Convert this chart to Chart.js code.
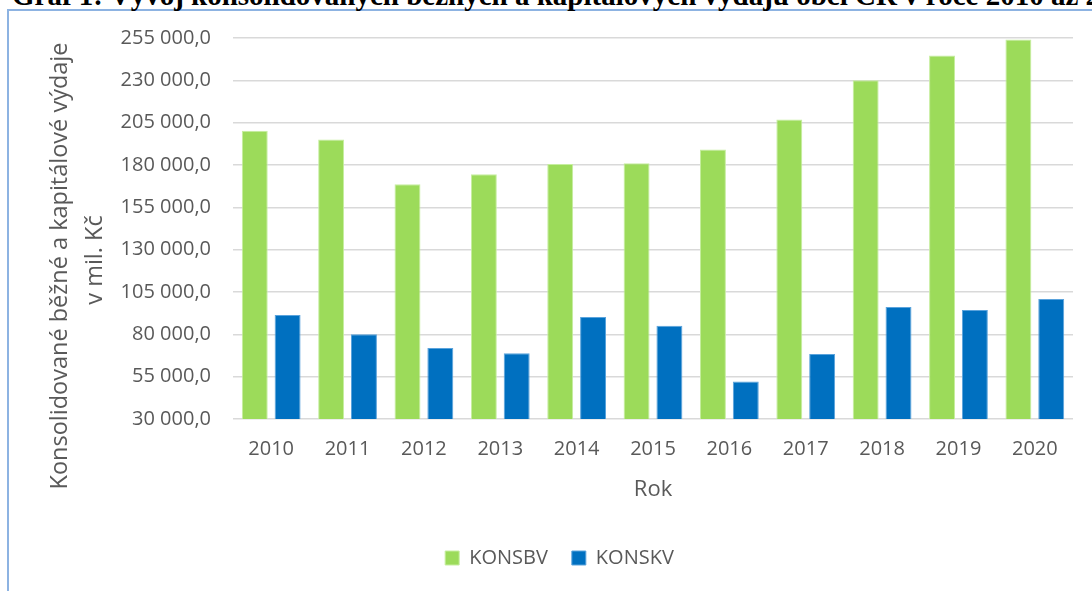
<!DOCTYPE html>
<html>
<head>
<meta charset="utf-8">
<script src="https://cdn.jsdelivr.net/npm/chart.js@4"></script>
<style>
  html, body { margin: 0; padding: 0; background: #fff; overflow: hidden; }
  body { width: 1092px; height: 591px; position: relative; }
  #frame { position: absolute; left: 7px; top: 9px; width: 1090px; height: 590px;
           border-top: 2px solid #8db3e2; border-left: 2px solid #8db3e2; }
  #nadpis { position: absolute; left: 12px; top: -19px; white-space: nowrap;
            font: bold 29px "Liberation Serif", "Times New Roman", serif; line-height: 1; color: #000; }
  #wrap { position: absolute; left: 0; top: 0; width: 1092px; height: 591px; }
</style>
</head>
<body>
<div id="frame"></div>
<div id="nadpis">Graf 1: Vývoj konsolidovaných běžných a kapitálových výdajů obcí ČR v roce 2010 až 2020</div>
<div id="wrap"><canvas id="graf" width="1092" height="591"></canvas></div>
<script>
// roky a hodnoty v mil. Kč
const roky = ['2010', '2011', '2012', '2013', '2014', '2015', '2016', '2017', '2018', '2019', '2020'];
const konsbv = [200200, 195000, 168600, 174500, 180600, 181000, 189100, 206900, 230100, 244600, 254100];
const konskv = [91400, 80100, 72000, 68800, 90200, 85000, 52200, 68400, 96100, 94400, 100900];
const osaTitulek = ['Konsolidované běžné a kapitálové výdaje', 'v mil. Kč'];

const sedaText = '#595959';
const pismo = '"Open Sans", "DejaVu Sans", sans-serif';

// 255000 -> "255 000,0"
function formatCislo(v) {
    const s = Math.round(v).toString().replace(/\B(?=(\d{3})+(?!\d))/g, ' ');
    return s + ',0';
}

// titulek osy y kreslime sami, v originale neni uplne na stredu plochy
const titulekOsyY = {
    id: 'titulekOsyY',
    afterDraw(chart) {
        const ctx = chart.ctx;
        ctx.save();
        ctx.fillStyle = sedaText;
        ctx.font = '23.5px ' + pismo;
        ctx.textAlign = 'center';
        ctx.textBaseline = 'middle';
        ctx.translate(60, 266);
        ctx.rotate(-Math.PI / 2);
        ctx.fillText(osaTitulek[0], 0, 0);
        ctx.fillText(osaTitulek[1], 6, 35);
        ctx.restore();
    }
};

const ctx = document.getElementById('graf').getContext('2d');
new Chart(ctx, {
    type: 'bar',
    data: {
        labels: roky,
        datasets: [{
            label: 'KONSBV',
            data: konsbv,
            backgroundColor: '#9cdb5a',
            borderColor: '#c6ee9f',
            borderWidth: 1,
            categoryPercentage: 0.86,
            barPercentage: 0.79
        }, {
            label: 'KONSKV',
            data: konskv,
            backgroundColor: '#0070c0',
            borderColor: '#5aa3dc',
            borderWidth: 1,
            categoryPercentage: 0.86,
            barPercentage: 0.79
        }]
    },
    options: {
        responsive: false,
        animation: false,
        devicePixelRatio: 1,
        // leve odsazeni 46 posune legendu na stred jako v originale
        layout: { padding: { top: 38, right: 19, bottom: 13, left: 46 } },
        plugins: {
            tooltip: { enabled: false },
            legend: {
                position: 'bottom',
                labels: {
                    boxWidth: 14,
                    boxHeight: 14,
                    padding: 24,
                    color: sedaText,
                    font: { family: pismo, size: 20 }
                }
            }
        },
        scales: {
            x: {
                grid: { display: false, drawTicks: false },
                border: { display: false },
                ticks: { color: sedaText, font: { family: pismo, size: 20 }, padding: 18 },
                title: {
                    display: true,
                    text: 'Rok',
                    color: sedaText,
                    font: { family: pismo, size: 22 },
                    padding: { top: 16, bottom: 21 }
                },
                afterFit(scale) { scale.height = 105; }
            },
            y: {
                min: 30000,
                max: 255000,
                grid: { color: '#d9d9d9', lineWidth: 1.5, drawTicks: false },
                border: { display: false },
                ticks: {
                    stepSize: 25000,
                    color: sedaText,
                    font: { family: pismo, size: 20 },
                    padding: 22,
                    callback: v => formatCislo(v)
                },
                afterFit(scale) { scale.width = 187; }
            }
        }
    },
    plugins: [titulekOsyY]
});
</script>
</body>
</html>
